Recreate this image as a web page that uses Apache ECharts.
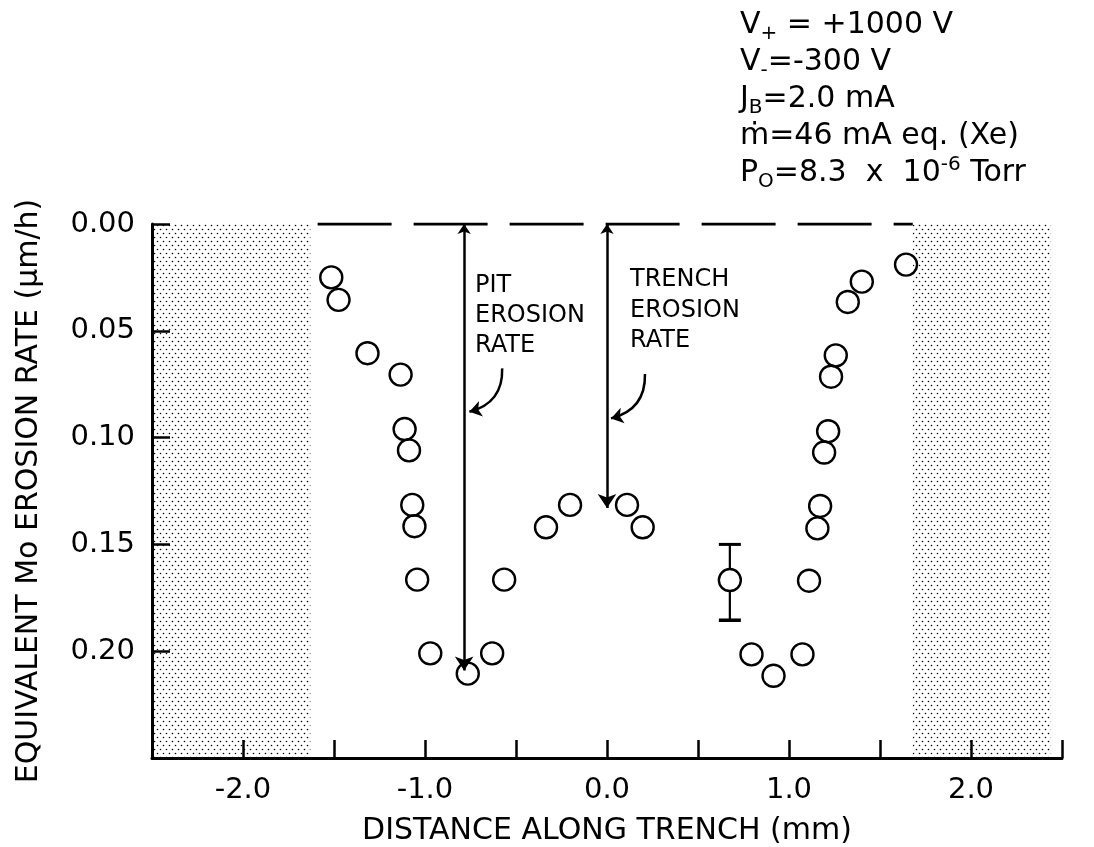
<!DOCTYPE html>
<html>
<head>
<meta charset="utf-8">
<script src="https://cdn.jsdelivr.net/npm/echarts@6/dist/echarts.min.js"></script>
<style>html,body{margin:0;padding:0;background:#fff}#chart{width:1094px;height:847px}</style>
</head>
<body>
<div id="chart"></div>
<script>
// ---- data ----
const pointX = [-1.515, -1.475, -1.316, -1.134, -1.112, -1.088, -1.070, -1.058, -1.043, -0.971, -0.765,
                -0.631, -0.565, -0.335, -0.203, 0.110, 0.196,
                0.675, 0.794, 0.915, 1.074, 1.110, 1.156, 1.171, 1.193, 1.215, 1.231, 1.257, 1.323, 1.400, 1.643];
const pointY = [0.025, 0.0355, 0.0605, 0.0705, 0.096, 0.106, 0.1315, 0.1415, 0.1665, 0.201, 0.2105,
                0.201, 0.1665, 0.142, 0.1315, 0.1315, 0.142,
                0.1667, 0.2015, 0.2115, 0.2015, 0.167, 0.1425, 0.132, 0.107, 0.097, 0.0715, 0.0615, 0.0365, 0.027, 0.019];
const errX = [0.675];
const errMid = [0.1667];
const errLow = [0.150];
const errHigh = [0.1855];
const shadeLeft = [-2.5, -1.63];
const shadeRight = [1.68, 2.44];
const zeroLine = [-1.59, 1.68];
const arrowX = [-0.785, 0.0];
const arrowDepth = [0.209, 0.133];
const leaderStart = [[-0.576, 0.0676], [0.2086, 0.0702]];
const leaderEnd = [[-0.756, 0.0879], [0.022, 0.091]];
const xTickLabels = ['-2.0', '-1.0', '0.0', '1.0', '2.0'];
const yTickLabels = ['0.00', '0.05', '0.10', '0.15', '0.20'];

// ---- stipple pattern ----
const tile = document.createElement('canvas');
tile.width = 6; tile.height = 8;
const tc = tile.getContext('2d');
tc.fillStyle = '#000';
tc.beginPath(); tc.arc(1.5, 1.5, 0.8, 0, Math.PI * 2); tc.fill();
tc.beginPath(); tc.arc(4.5, 5.5, 0.8, 0, Math.PI * 2); tc.fill();
const stipple = { image: tile, repeat: 'repeat' };

const FONT = '"DejaVu Sans", "Liberation Sans", Arial, sans-serif';
const chart = echarts.init(document.getElementById('chart'));

const points = pointX.map((x, i) => [x, pointY[i]]);
const errData = errX.map((x, i) => [x, errLow[i], errHigh[i], errMid[i]]);

chart.setOption({
  animation: false,
  backgroundColor: '#fff',
  grid: { left: 152, right: 32, top: 224, bottom: 89, outerBoundsMode: 'none', containLabel: false },
  xAxis: {
    type: 'value', min: -2.5, max: 2.5, interval: 0.5,
    axisLine: { show: true, onZero: false, lineStyle: { color: '#000', width: 3 } },
    axisTick: { show: true, inside: true, length: 18, lineStyle: { color: '#000', width: 2.5 } },
    axisLabel: {
      color: '#000', fontFamily: FONT, fontSize: 29, margin: 18,
      formatter: v => { const r = Math.round(v * 10) / 10; const i = xTickLabels.indexOf(r.toFixed(1)); return (Number.isInteger(r) && i >= 0) ? xTickLabels[i] : ''; }
    },
    splitLine: { show: false },
    name: 'DISTANCE ALONG TRENCH (mm)', nameLocation: 'middle', nameGap: 58,
    nameTextStyle: { color: '#000', fontFamily: FONT, fontSize: 30 }
  },
  yAxis: {
    type: 'value', min: 0, max: 0.25, interval: 0.05, inverse: true,
    axisLine: { show: true, onZero: false, lineStyle: { color: '#000', width: 3 } },
    axisTick: { show: true, inside: true, length: 18, lineStyle: { color: '#000', width: 2.5 } },
    axisLabel: {
      color: '#000', fontFamily: FONT, fontSize: 29, margin: 17,
      formatter: v => { const s = (Math.round(v * 100) / 100).toFixed(2); return yTickLabels.indexOf(s) >= 0 ? s : ''; }
    },
    splitLine: { show: false },
    name: 'EQUIVALENT Mo EROSION RATE (μm/h)', nameLocation: 'middle', nameGap: 108, nameRotate: 90,
    nameTextStyle: { color: '#000', fontFamily: FONT, fontSize: 30 }
  },
  series: [
    {
      type: 'line', data: zeroLine.map(x => [x, 0]), symbol: 'none', z: 3,
      lineStyle: { color: '#000', width: 3, type: [74, 22] },
      markArea: {
        silent: true, itemStyle: { color: stipple },
        data: [
          [{ xAxis: shadeLeft[0], yAxis: 0 }, { xAxis: shadeLeft[1], yAxis: 0.25 }],
          [{ xAxis: shadeRight[0], yAxis: 0 }, { xAxis: shadeRight[1], yAxis: 0.25 }]
        ]
      }
    },
    {
      type: 'lines', coordinateSystem: 'cartesian2d', z: 4,
      symbol: ['arrow', 'arrow'], symbolSize: [10, 14],
      lineStyle: { color: '#000', width: 2.5, opacity: 1 },
      data: arrowX.map((x, i) => ({ coords: [[x, 0], [x, arrowDepth[i]]] }))
    },
    {
      type: 'lines', coordinateSystem: 'cartesian2d', z: 4,
      symbol: ['none', 'arrow'], symbolSize: 12,
      lineStyle: { color: '#000', width: 2.5, opacity: 1, curveness: 0.4 },
      data: leaderStart.map((p, i) => ({ coords: [p, leaderEnd[i]] }))
    },
    {
      type: 'custom', z: 4,
      renderItem: (params, api) => {
        const x = api.value(0);
        const pT = api.coord([x, api.value(1)]);
        const pB = api.coord([x, api.value(2)]);
        const pM = api.coord([x, api.value(3)]);
        const r = 11, cw = 11;
        const st = { stroke: '#000', lineWidth: 2.2 };
        return { type: 'group', children: [
          { type: 'line', shape: { x1: pT[0], y1: pT[1], x2: pM[0], y2: pM[1] - r }, style: st },
          { type: 'line', shape: { x1: pM[0], y1: pM[1] + r, x2: pB[0], y2: pB[1] }, style: st },
          { type: 'line', shape: { x1: pT[0] - cw, y1: pT[1], x2: pT[0] + cw, y2: pT[1] }, style: { stroke: '#000', lineWidth: 3 } },
          { type: 'line', shape: { x1: pB[0] - cw, y1: pB[1], x2: pB[0] + cw, y2: pB[1] }, style: { stroke: '#000', lineWidth: 3.5 } }
        ]};
      },
      data: errData
    },
    {
      type: 'scatter', z: 5, symbol: 'circle', symbolSize: 22,
      itemStyle: { color: 'rgba(0,0,0,0)', borderColor: '#000', borderWidth: 2.4, opacity: 1 },
      data: points
    }
  ],
  graphic: [
    {
      type: 'text', left: 475, top: 271,
      style: { text: 'PIT\nEROSION\nRATE', font: '24px ' + FONT, fill: '#000', lineHeight: 30 }
    },
    {
      type: 'text', left: 630, top: 265,
      style: { text: 'TRENCH\nEROSION\nRATE', font: '24px ' + FONT, fill: '#000', lineHeight: 30.5 }
    },
    {
      type: 'text', left: 740, top: 10,
      style: {
        text: '{a|V}{s|+}{a| = +1000 V}\n{a|V}{s|-}{a|=-300 V}\n{a|J}{s|B}{a|=2.0 mA}\n{a|ṁ=46 mA eq. (Xe)}\n{a|P}{s|O}{a|=8.3  x  10}{p|-6}{a| Torr}',
        fill: '#000',
        rich: {
          a: { fontSize: 30, fontFamily: FONT, lineHeight: 37, color: '#000' },
          s: { fontSize: 20, fontFamily: FONT, lineHeight: 20, verticalAlign: 'bottom', color: '#000' },
          p: { fontSize: 20, fontFamily: FONT, lineHeight: 20, verticalAlign: 'top', color: '#000' }
        }
      }
    }
  ]
});
</script>
</body>
</html>
